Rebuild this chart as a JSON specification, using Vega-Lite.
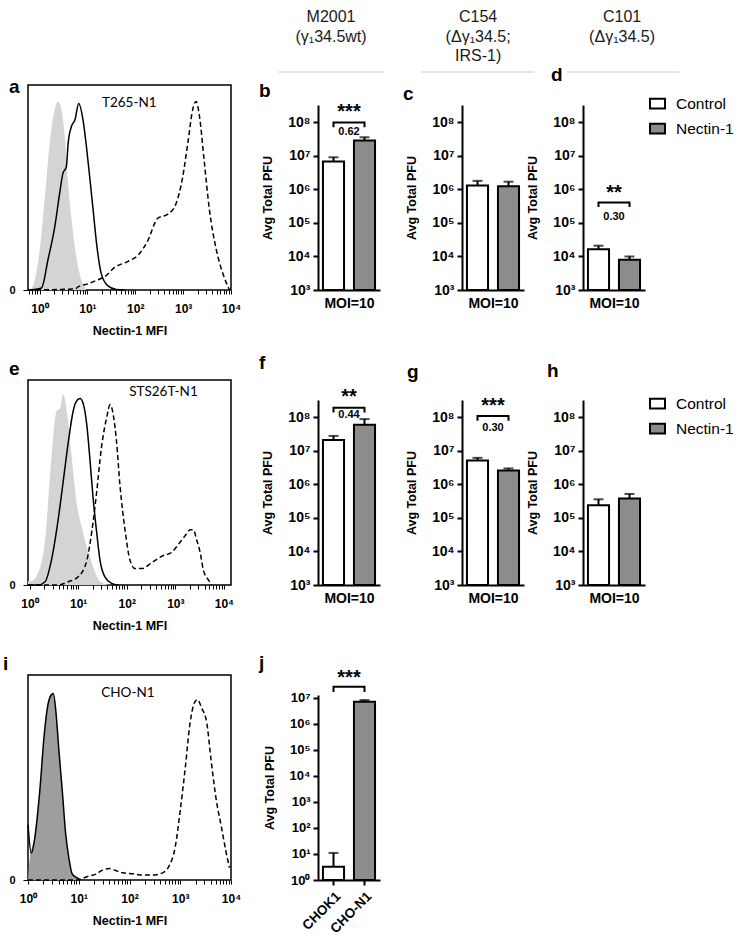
{
"$schema":"https://vega.github.io/schema/vega-lite/v6.json",
"background":"white",
"padding":{"left":2,"top":0,"right":0,"bottom":0},
"config":{
 "font":"Liberation Sans",
 "view":{"stroke":null},
 "axis":{"domainColor":"black","tickColor":"black","labelColor":"black","titleColor":"black","grid":false,"labelFontWeight":"bold","titleFontWeight":"bold","labelOverlap":false,"labelBound":false,"labelFlush":false},
 "title":{"anchor":"start","frame":"group","fontSize":19,"fontWeight":"bold","font":"Liberation Sans","offset":0,"color":"black"},
 "legend":{"labelFont":"Liberation Sans","labelFontSize":15.5,"labelColor":"black","symbolStrokeColor":"black","symbolStrokeWidth":2,"symbolType":"M-1,-0.65H1V0.65H-1Z","symbolSize":225,"labelOffset":10,"rowPadding":6,"padding":0}
},
"hconcat":[
 {"vconcat":[
   {"width":203,"height":5,"data":{"values":[]},"mark":"point"},
   {"vconcat":[
     {"title":{"text":"a","dx":-19,"dy":16},"width":203,"height":205,"view":{"stroke":"black","strokeWidth":1.5},
      "data":{"values":[
       {"s":"iso","m":0.631,"h":0},{"s":"iso","m":0.8,"h":0.05},{"s":"iso","m":1.016,"h":0.2},{"s":"iso","m":1.29,"h":0.45},{"s":"iso","m":1.64,"h":0.72},{"s":"iso","m":2.08,"h":0.88},{"s":"iso","m":2.45,"h":0.92},{"s":"iso","m":2.87,"h":0.88},{"s":"iso","m":3.37,"h":0.75},{"s":"iso","m":3.95,"h":0.52},{"s":"iso","m":4.8,"h":0.32},{"s":"iso","m":5.9,"h":0.16},{"s":"iso","m":7.5,"h":0.05},{"s":"iso","m":9.5,"h":0},
       {"s":"ctrl","m":0.575,"h":0},{"s":"ctrl","m":1.1,"h":0.01},{"s":"ctrl","m":1.51,"h":0.15},{"s":"ctrl","m":2.09,"h":0.31},{"s":"ctrl","m":2.63,"h":0.47},{"s":"ctrl","m":3.09,"h":0.57},{"s":"ctrl","m":3.63,"h":0.6},{"s":"ctrl","m":3.98,"h":0.72},{"s":"ctrl","m":4.68,"h":0.8},{"s":"ctrl","m":5.5,"h":0.83},{"s":"ctrl","m":6.6,"h":0.91},{"s":"ctrl","m":8.1,"h":0.83},{"s":"ctrl","m":9.55,"h":0.7},{"s":"ctrl","m":11.2,"h":0.55},{"s":"ctrl","m":13.2,"h":0.39},{"s":"ctrl","m":15.5,"h":0.23},{"s":"ctrl","m":19.5,"h":0.08},{"s":"ctrl","m":26.9,"h":0.02},{"s":"ctrl","m":39.8,"h":0.003},{"s":"ctrl","m":60,"h":0},
       {"s":"n1","m":0.575,"h":0},{"s":"n1","m":5.5,"h":0.005},{"s":"n1","m":6.46,"h":0.016},{"s":"n1","m":10.2,"h":0.03},{"s":"n1","m":16.6,"h":0.05},{"s":"n1","m":22.9,"h":0.065},{"s":"n1","m":37.2,"h":0.11},{"s":"n1","m":70.8,"h":0.14},{"s":"n1","m":115,"h":0.17},{"s":"n1","m":182,"h":0.24},{"s":"n1","m":295,"h":0.35},{"s":"n1","m":479,"h":0.37},{"s":"n1","m":708,"h":0.42},{"s":"n1","m":977,"h":0.55},{"s":"n1","m":1259,"h":0.72},{"s":"n1","m":1585,"h":0.88},{"s":"n1","m":1862,"h":0.92},{"s":"n1","m":2188,"h":0.85},{"s":"n1","m":2754,"h":0.63},{"s":"n1","m":3548,"h":0.39},{"s":"n1","m":4898,"h":0.2},{"s":"n1","m":6761,"h":0.08},{"s":"n1","m":9333,"h":0},
       {"s":"lab","m":75,"h":0.91,"t":"T265-N1"}
      ]},
      "encoding":{
       "x":{"field":"m","type":"quantitative","scale":{"type":"log","domain":[0.575,10000],"nice":false},
        "axis":{"values":[0.6,0.7,0.8,0.9,1,2,3,4,5,6,7,8,9,10,20,30,40,50,60,70,80,90,100,200,300,400,500,600,700,800,900,1000,2000,3000,4000,5000,6000,7000,8000,9000,10000],"labelExpr":"abs(log(datum.value)/LN10 - round(log(datum.value)/LN10)) < 0.01 ? '10' + ['⁰','¹','²','³','⁴'][round(log(datum.value)/LN10)] : ''","tickSize":4,"labelFontSize":12,"labelPadding":9,"title":"Nectin-1 MFI","titleFontSize":12.5,"titlePadding":10,"domain":false}},
       "y":{"field":"h","type":"quantitative","scale":{"domain":[0,1],"nice":false},"axis":{"values":[0],"title":null,"labelFontSize":11,"tickSize":5,"labelPadding":8,"domain":false}}
      },
      "layer":[
       {"transform":[{"filter":"datum.s==='iso'"}],"mark":{"type":"area","color":"#d4d4d4","interpolate":"monotone"}},
       {"transform":[{"filter":"datum.s==='ctrl'"}],"mark":{"type":"line","color":"black","strokeWidth":1.5,"interpolate":"monotone"}},
       {"transform":[{"filter":"datum.s==='n1'"}],"mark":{"type":"line","color":"black","strokeWidth":1.5,"strokeDash":[5,3],"interpolate":"monotone"}},
       {"transform":[{"filter":"datum.s==='lab'"}],"mark":{"type":"text","font":"Lato","fontSize":13.5,"color":"black","baseline":"middle"},"encoding":{"text":{"field":"t"}}}
      ]},
     {"title":{"text":"e","dx":-19,"dy":3},"width":203,"height":205,"view":{"stroke":"black","strokeWidth":1.5},
      "data":{"values":[
       {"s":"iso","m":0.93,"h":0.02},{"s":"iso","m":1.1,"h":0.02},{"s":"iso","m":1.51,"h":0.06},{"s":"iso","m":2.09,"h":0.22},{"s":"iso","m":2.82,"h":0.62},{"s":"iso","m":3.63,"h":0.85},{"s":"iso","m":4.27,"h":0.86},{"s":"iso","m":4.9,"h":0.93},{"s":"iso","m":5.75,"h":0.86},{"s":"iso","m":7.41,"h":0.62},{"s":"iso","m":9.33,"h":0.4},{"s":"iso","m":11.7,"h":0.29},{"s":"iso","m":14.8,"h":0.19},{"s":"iso","m":19.1,"h":0.11},{"s":"iso","m":25.7,"h":0.03},{"s":"iso","m":35.5,"h":0.005},{"s":"iso","m":49,"h":0},
       {"s":"ctrl","m":0.93,"h":0},{"s":"ctrl","m":1.51,"h":0},{"s":"ctrl","m":2.09,"h":0.016},{"s":"ctrl","m":2.82,"h":0.12},{"s":"ctrl","m":3.89,"h":0.32},{"s":"ctrl","m":4.9,"h":0.5},{"s":"ctrl","m":6.3,"h":0.7},{"s":"ctrl","m":7.94,"h":0.85},{"s":"ctrl","m":8.9,"h":0.89},{"s":"ctrl","m":11,"h":0.91},{"s":"ctrl","m":12.9,"h":0.88},{"s":"ctrl","m":15.1,"h":0.78},{"s":"ctrl","m":17.4,"h":0.62},{"s":"ctrl","m":20.4,"h":0.42},{"s":"ctrl","m":24,"h":0.26},{"s":"ctrl","m":28.2,"h":0.12},{"s":"ctrl","m":35.5,"h":0.04},{"s":"ctrl","m":49,"h":0.008},{"s":"ctrl","m":67.6,"h":0},
       {"s":"n1","m":0.93,"h":0},{"s":"n1","m":3.89,"h":0},{"s":"n1","m":6.3,"h":0.016},{"s":"n1","m":10,"h":0.04},{"s":"n1","m":15.1,"h":0.12},{"s":"n1","m":19.1,"h":0.26},{"s":"n1","m":24,"h":0.45},{"s":"n1","m":30.2,"h":0.67},{"s":"n1","m":38.9,"h":0.82},{"s":"n1","m":45.7,"h":0.88},{"s":"n1","m":53.7,"h":0.82},{"s":"n1","m":61.7,"h":0.7},{"s":"n1","m":72.4,"h":0.49},{"s":"n1","m":93.3,"h":0.26},{"s":"n1","m":117,"h":0.12},{"s":"n1","m":148,"h":0.08},{"s":"n1","m":204,"h":0.08},{"s":"n1","m":331,"h":0.11},{"s":"n1","m":525,"h":0.14},{"s":"n1","m":851,"h":0.16},{"s":"n1","m":1175,"h":0.2},{"s":"n1","m":1585,"h":0.24},{"s":"n1","m":2042,"h":0.27},{"s":"n1","m":2344,"h":0.27},{"s":"n1","m":2754,"h":0.22},{"s":"n1","m":3236,"h":0.16},{"s":"n1","m":3802,"h":0.07},{"s":"n1","m":4786,"h":0.025},{"s":"n1","m":5623,"h":0},
       {"s":"lab","m":570,"h":0.94,"t":"STS26T-N1"}
      ]},
      "encoding":{
       "x":{"field":"m","type":"quantitative","scale":{"type":"log","domain":[0.93,14000],"nice":false},
        "axis":{"values":[1,2,3,4,5,6,7,8,9,10,20,30,40,50,60,70,80,90,100,200,300,400,500,600,700,800,900,1000,2000,3000,4000,5000,6000,7000,8000,9000,10000],"labelExpr":"abs(log(datum.value)/LN10 - round(log(datum.value)/LN10)) < 0.01 ? '10' + ['⁰','¹','²','³','⁴'][round(log(datum.value)/LN10)] : ''","tickSize":4,"labelFontSize":12,"labelPadding":9,"title":"Nectin-1 MFI","titleFontSize":12.5,"titlePadding":10,"domain":false}},
       "y":{"field":"h","type":"quantitative","scale":{"domain":[0,1],"nice":false},"axis":{"values":[0],"title":null,"labelFontSize":11,"tickSize":5,"labelPadding":8,"domain":false}}
      },
      "layer":[
       {"transform":[{"filter":"datum.s==='iso'"}],"mark":{"type":"area","color":"#d4d4d4","interpolate":"monotone"}},
       {"transform":[{"filter":"datum.s==='ctrl'"}],"mark":{"type":"line","color":"black","strokeWidth":1.5,"interpolate":"monotone"}},
       {"transform":[{"filter":"datum.s==='n1'"}],"mark":{"type":"line","color":"black","strokeWidth":1.5,"strokeDash":[5,3],"interpolate":"monotone"}},
       {"transform":[{"filter":"datum.s==='lab'"}],"mark":{"type":"text","font":"Lato","fontSize":13.5,"color":"black","baseline":"middle"},"encoding":{"text":{"field":"t"}}}
      ]},
     {"title":{"text":"i","dx":-25,"dy":3},"width":203,"height":205,"view":{"stroke":"black","strokeWidth":1.5},
      "data":{"values":[
       {"s":"iso","m":1.0,"h":0},{"s":"iso","m":1.08,"h":0.1},{"s":"iso","m":1.35,"h":0.21},{"s":"iso","m":1.7,"h":0.43},{"s":"iso","m":2.09,"h":0.71},{"s":"iso","m":2.45,"h":0.85},{"s":"iso","m":2.82,"h":0.9},{"s":"iso","m":3.16,"h":0.91},{"s":"iso","m":3.55,"h":0.82},{"s":"iso","m":4.07,"h":0.63},{"s":"iso","m":4.79,"h":0.42},{"s":"iso","m":5.5,"h":0.23},{"s":"iso","m":6.46,"h":0.1},{"s":"iso","m":7.41,"h":0.03},{"s":"iso","m":9.33,"h":0.01},{"s":"iso","m":10.7,"h":0},
       {"s":"ctrl","m":1.0,"h":0.27},{"s":"ctrl","m":1.16,"h":0.13},{"s":"ctrl","m":1.35,"h":0.2},{"s":"ctrl","m":1.7,"h":0.43},{"s":"ctrl","m":2.09,"h":0.71},{"s":"ctrl","m":2.45,"h":0.85},{"s":"ctrl","m":2.82,"h":0.9},{"s":"ctrl","m":3.16,"h":0.91},{"s":"ctrl","m":3.55,"h":0.82},{"s":"ctrl","m":4.07,"h":0.63},{"s":"ctrl","m":4.79,"h":0.42},{"s":"ctrl","m":5.5,"h":0.23},{"s":"ctrl","m":6.46,"h":0.1},{"s":"ctrl","m":7.41,"h":0.03},{"s":"ctrl","m":9.33,"h":0.01},{"s":"ctrl","m":10.7,"h":0},
       {"s":"n1","m":1.0,"h":0},{"s":"n1","m":9.33,"h":0},{"s":"n1","m":14.5,"h":0.016},{"s":"n1","m":22.4,"h":0.03},{"s":"n1","m":30.2,"h":0.05},{"s":"n1","m":40.7,"h":0.056},{"s":"n1","m":55,"h":0.045},{"s":"n1","m":74,"h":0.035},{"s":"n1","m":115,"h":0.03},{"s":"n1","m":182,"h":0.024},{"s":"n1","m":282,"h":0.024},{"s":"n1","m":447,"h":0.035},{"s":"n1","m":589,"h":0.064},{"s":"n1","m":794,"h":0.16},{"s":"n1","m":1000,"h":0.34},{"s":"n1","m":1259,"h":0.55},{"s":"n1","m":1549,"h":0.76},{"s":"n1","m":1950,"h":0.87},{"s":"n1","m":2188,"h":0.88},{"s":"n1","m":2630,"h":0.84},{"s":"n1","m":3311,"h":0.77},{"s":"n1","m":4074,"h":0.58},{"s":"n1","m":5129,"h":0.39},{"s":"n1","m":6457,"h":0.26},{"s":"n1","m":7943,"h":0.14},{"s":"n1","m":9333,"h":0.06},
       {"s":"lab","m":93,"h":0.91,"t":"CHO-N1"}
      ]},
      "encoding":{
       "x":{"field":"m","type":"quantitative","scale":{"type":"log","domain":[1,10000],"nice":false},
        "axis":{"values":[1,2,3,4,5,6,7,8,9,10,20,30,40,50,60,70,80,90,100,200,300,400,500,600,700,800,900,1000,2000,3000,4000,5000,6000,7000,8000,9000,10000],"labelExpr":"abs(log(datum.value)/LN10 - round(log(datum.value)/LN10)) < 0.01 ? '10' + ['⁰','¹','²','³','⁴'][round(log(datum.value)/LN10)] : ''","tickSize":4,"labelFontSize":12,"labelPadding":9,"title":"Nectin-1 MFI","titleFontSize":12.5,"titlePadding":10,"domain":false}},
       "y":{"field":"h","type":"quantitative","scale":{"domain":[0,1],"nice":false},"axis":{"values":[0],"title":null,"labelFontSize":11,"tickSize":5,"labelPadding":8,"domain":false}}
      },
      "layer":[
       {"transform":[{"filter":"datum.s==='iso'"}],"mark":{"type":"area","color":"#9e9e9e","interpolate":"monotone"}},
       {"transform":[{"filter":"datum.s==='ctrl'"}],"mark":{"type":"line","color":"black","strokeWidth":1.5,"interpolate":"monotone"}},
       {"transform":[{"filter":"datum.s==='n1'"}],"mark":{"type":"line","color":"black","strokeWidth":1.5,"strokeDash":[5,3],"interpolate":"monotone"}},
       {"transform":[{"filter":"datum.s==='lab'"}],"mark":{"type":"text","font":"Lato","fontSize":13.5,"color":"black","baseline":"middle"},"encoding":{"text":{"field":"t"}}}
      ]}
   ],"spacing":90,"bounds":"flush"}
 ],"spacing":80,"bounds":"flush"},
 {"hconcat":[
  {"vconcat":[
    {"width":62,"height":75,
     "data":{"values":[{"t":"M2001\n(γ₁34.5wt)","x":0.21,"y":0.88,"x1":-0.645,"x2":1.065,"ly":0.04}]},
     "layer":[
      {"mark":{"type":"text","lineBreak":"\n","lineHeight":19.5,"fontSize":16,"baseline":"top","align":"center","color":"#1a1a1a"},
       "encoding":{"x":{"field":"x","type":"quantitative","scale":{"domain":[0,1]},"axis":null},"y":{"field":"y","type":"quantitative","scale":{"domain":[0,1]},"axis":null},"text":{"field":"t"}}},
      {"mark":{"type":"rule","color":"#cccccc","strokeWidth":1},
       "encoding":{"x":{"field":"x1","type":"quantitative"},"x2":{"field":"x2"},"y":{"field":"ly","type":"quantitative"}}}
     ]},
    {"vconcat":[
      {"title":{"text":"b","dx":-59,"dy":3},"width":62,"height":185,
       "data":{"values":[
        {"k":"bar","grp":"Control","v":6.8e6,"hi":9.1e6},{"k":"bar","grp":"Nectin-1","v":2.9e7,"hi":3.6e7},
        {"k":"br","grp":"Control","v":7.1e7,"o":1},{"k":"br","grp":"Control","v":1e8,"o":2},{"k":"br","grp":"Nectin-1","v":1e8,"o":3},{"k":"br","grp":"Nectin-1","v":7.1e7,"o":4},
        {"k":"star","grp":"Control","v":2.1e8,"t":"***"},{"k":"ratio","grp":"Control","v":5.3e7,"t":"0.62"}
       ]},
       "layer":[
        {"transform":[{"filter":"datum.k==='bar'"}],"mark":{"type":"bar","stroke":"black","strokeWidth":2},
         "encoding":{"x":{"field":"grp","type":"nominal","scale":{"type":"band","domain":["Control","Nectin-1"],"paddingInner":0.32,"paddingOuter":0.16},"axis":{"labels":false,"ticks":false,"title":"MOI=10","titleFontSize":14,"titlePadding":6,"domainWidth":2}},
          "y":{"field":"v","type":"quantitative","scale":{"type":"log","domain":[1000,3.3e8],"nice":false},"axis":{"values":[1000,10000,100000,1000000,10000000,100000000],"labelExpr":"'10' + ['⁰','¹','²','³','⁴','⁵','⁶','⁷','⁸'][round(log(datum.value)/LN10)]","title":"Avg Total PFU","titleFontSize":12.5,"labelFontSize":14,"tickSize":5,"labelPadding":3,"titlePadding":13,"domainWidth":2,"tickWidth":2}},
          "y2":{"datum":1000},
          "fill":{"field":"grp","type":"nominal","scale":{"domain":["Control","Nectin-1"],"range":["white","#8c8c8c"]},"legend":null}}},
        {"transform":[{"filter":"datum.k==='bar'"}],"mark":{"type":"rule","strokeWidth":2,"color":"black"},"encoding":{"x":{"field":"grp","type":"nominal"},"y":{"field":"v","type":"quantitative"},"y2":{"field":"hi"}}},
        {"transform":[{"filter":"datum.k==='bar'"}],"mark":{"type":"tick","thickness":2,"size":10,"color":"black"},"encoding":{"x":{"field":"grp","type":"nominal"},"y":{"field":"hi","type":"quantitative"}}},
        {"transform":[{"filter":"datum.k==='br'"}],"mark":{"type":"line","strokeWidth":2,"color":"black"},"encoding":{"x":{"field":"grp","type":"nominal"},"y":{"field":"v","type":"quantitative"},"order":{"field":"o"}}},
        {"transform":[{"filter":"datum.k==='star'"}],"mark":{"type":"text","fontSize":20,"fontWeight":"bold","baseline":"middle"},"encoding":{"x":{"field":"grp","type":"nominal","bandPosition":1.235},"y":{"field":"v","type":"quantitative"},"text":{"field":"t"}}},
        {"transform":[{"filter":"datum.k==='ratio'"}],"mark":{"type":"text","fontSize":11,"fontWeight":"bold","baseline":"middle"},"encoding":{"x":{"field":"grp","type":"nominal","bandPosition":1.235},"y":{"field":"v","type":"quantitative"},"text":{"field":"t"}}}
       ]},
      {"title":{"text":"f","dx":-59,"dy":-10},"width":62,"height":185,
       "data":{"values":[
        {"k":"bar","grp":"Control","v":2.1e7,"hi":2.8e7},{"k":"bar","grp":"Nectin-1","v":6e7,"hi":8.9e7},
        {"k":"br","grp":"Control","v":1.4e8,"o":1},{"k":"br","grp":"Control","v":1.95e8,"o":2},{"k":"br","grp":"Nectin-1","v":1.95e8,"o":3},{"k":"br","grp":"Nectin-1","v":1.4e8,"o":4},
        {"k":"star","grp":"Control","v":4e8,"t":"**"},{"k":"ratio","grp":"Control","v":1.2e8,"t":"0.44"}
       ]},
       "layer":[
        {"transform":[{"filter":"datum.k==='bar'"}],"mark":{"type":"bar","stroke":"black","strokeWidth":2},
         "encoding":{"x":{"field":"grp","type":"nominal","scale":{"type":"band","domain":["Control","Nectin-1"],"paddingInner":0.32,"paddingOuter":0.16},"axis":{"labels":false,"ticks":false,"title":"MOI=10","titleFontSize":14,"titlePadding":6,"domainWidth":2}},
          "y":{"field":"v","type":"quantitative","scale":{"type":"log","domain":[1000,3.3e8],"nice":false},"axis":{"values":[1000,10000,100000,1000000,10000000,100000000],"labelExpr":"'10' + ['⁰','¹','²','³','⁴','⁵','⁶','⁷','⁸'][round(log(datum.value)/LN10)]","title":"Avg Total PFU","titleFontSize":12.5,"labelFontSize":14,"tickSize":5,"labelPadding":3,"titlePadding":13,"domainWidth":2,"tickWidth":2}},
          "y2":{"datum":1000},
          "fill":{"field":"grp","type":"nominal","scale":{"domain":["Control","Nectin-1"],"range":["white","#8c8c8c"]},"legend":null}}},
        {"transform":[{"filter":"datum.k==='bar'"}],"mark":{"type":"rule","strokeWidth":2,"color":"black"},"encoding":{"x":{"field":"grp","type":"nominal"},"y":{"field":"v","type":"quantitative"},"y2":{"field":"hi"}}},
        {"transform":[{"filter":"datum.k==='bar'"}],"mark":{"type":"tick","thickness":2,"size":10,"color":"black"},"encoding":{"x":{"field":"grp","type":"nominal"},"y":{"field":"hi","type":"quantitative"}}},
        {"transform":[{"filter":"datum.k==='br'"}],"mark":{"type":"line","strokeWidth":2,"color":"black"},"encoding":{"x":{"field":"grp","type":"nominal"},"y":{"field":"v","type":"quantitative"},"order":{"field":"o"}}},
        {"transform":[{"filter":"datum.k==='star'"}],"mark":{"type":"text","fontSize":20,"fontWeight":"bold","baseline":"middle"},"encoding":{"x":{"field":"grp","type":"nominal","bandPosition":1.235},"y":{"field":"v","type":"quantitative"},"text":{"field":"t"}}},
        {"transform":[{"filter":"datum.k==='ratio'"}],"mark":{"type":"text","fontSize":11,"fontWeight":"bold","baseline":"middle"},"encoding":{"x":{"field":"grp","type":"nominal","bandPosition":1.235},"y":{"field":"v","type":"quantitative"},"text":{"field":"t"}}}
       ]},
      {"title":{"text":"j","dx":-59,"dy":9},"width":62,"height":185,
       "data":{"values":[
        {"k":"bar","grp":"CHOK1","v":3.2,"hi":11},{"k":"bar","grp":"CHO-N1","v":7.2e6,"hi":8.3e6},
        {"k":"br","grp":"CHOK1","v":1.7e7,"o":1},{"k":"br","grp":"CHOK1","v":2.7e7,"o":2},{"k":"br","grp":"CHO-N1","v":2.7e7,"o":3},{"k":"br","grp":"CHO-N1","v":1.7e7,"o":4},
        {"k":"star","grp":"CHOK1","v":5.7e7,"t":"***"}
       ]},
       "layer":[
        {"transform":[{"filter":"datum.k==='bar'"}],"mark":{"type":"bar","stroke":"black","strokeWidth":2},
         "encoding":{"x":{"field":"grp","type":"nominal","scale":{"type":"band","domain":["CHOK1","CHO-N1"],"paddingInner":0.32,"paddingOuter":0.16},"axis":{"labelAngle":-45,"labelFontSize":13.5,"tickSize":5,"tickWidth":2,"labelPadding":4,"title":null,"domainWidth":2}},
          "y":{"field":"v","type":"quantitative","scale":{"type":"log","domain":[1,1.3e7],"nice":false},"axis":{"values":[1,10,100,1000,10000,100000,1000000,10000000],"labelExpr":"'10' + ['⁰','¹','²','³','⁴','⁵','⁶','⁷','⁸'][round(log(datum.value)/LN10)]","title":"Avg Total PFU","titleFontSize":12.5,"labelFontSize":13,"tickSize":5,"labelPadding":3,"titlePadding":13,"domainWidth":2,"tickWidth":2}},
          "y2":{"datum":1},
          "fill":{"field":"grp","type":"nominal","scale":{"domain":["CHOK1","CHO-N1"],"range":["white","#8c8c8c"]},"legend":null}}},
        {"transform":[{"filter":"datum.k==='bar'"}],"mark":{"type":"rule","strokeWidth":2,"color":"black"},"encoding":{"x":{"field":"grp","type":"nominal"},"y":{"field":"v","type":"quantitative"},"y2":{"field":"hi"}}},
        {"transform":[{"filter":"datum.k==='bar'"}],"mark":{"type":"tick","thickness":2,"size":10,"color":"black"},"encoding":{"x":{"field":"grp","type":"nominal"},"y":{"field":"hi","type":"quantitative"}}},
        {"transform":[{"filter":"datum.k==='br'"}],"mark":{"type":"line","strokeWidth":2,"color":"black"},"encoding":{"x":{"field":"grp","type":"nominal"},"y":{"field":"v","type":"quantitative"},"order":{"field":"o"}}},
        {"transform":[{"filter":"datum.k==='star'"}],"mark":{"type":"text","fontSize":20,"fontWeight":"bold","baseline":"middle"},"encoding":{"x":{"field":"grp","type":"nominal","bandPosition":1.235},"y":{"field":"v","type":"quantitative"},"text":{"field":"t"}}}
       ]}
    ],"spacing":110,"bounds":"flush","resolve":{"scale":{"fill":"independent"},"legend":{"fill":"independent"}}}
  ],"spacing":30,"bounds":"flush","resolve":{"scale":{"fill":"independent"},"legend":{"fill":"independent"}}},
  {"hconcat":[
   {"vconcat":[
    {"width":62,"height":75,
     "data":{"values":[{"t":"C154\n(Δγ₁34.5;\nIRS-1)","x":0.26,"y":0.88,"x1":-0.66,"x2":1.16,"ly":0.04}]},
     "layer":[
      {"mark":{"type":"text","lineBreak":"\n","lineHeight":19.5,"fontSize":16,"baseline":"top","align":"center","color":"#1a1a1a"},
       "encoding":{"x":{"field":"x","type":"quantitative","scale":{"domain":[0,1]},"axis":null},"y":{"field":"y","type":"quantitative","scale":{"domain":[0,1]},"axis":null},"text":{"field":"t"}}},
      {"mark":{"type":"rule","color":"#cccccc","strokeWidth":1},
       "encoding":{"x":{"field":"x1","type":"quantitative"},"x2":{"field":"x2"},"y":{"field":"ly","type":"quantitative"}}}
     ]},
    {"vconcat":[
      {"title":{"text":"c","dx":-59,"dy":3},"width":62,"height":185,
       "data":{"values":[
        {"k":"bar","grp":"Control","v":1.3e6,"hi":1.8e6},{"k":"bar","grp":"Nectin-1","v":1.25e6,"hi":1.7e6}
       ]},
       "layer":[
        {"transform":[{"filter":"datum.k==='bar'"}],"mark":{"type":"bar","stroke":"black","strokeWidth":2},
         "encoding":{"x":{"field":"grp","type":"nominal","scale":{"type":"band","domain":["Control","Nectin-1"],"paddingInner":0.32,"paddingOuter":0.16},"axis":{"labels":false,"ticks":false,"title":"MOI=10","titleFontSize":14,"titlePadding":6,"domainWidth":2}},
          "y":{"field":"v","type":"quantitative","scale":{"type":"log","domain":[1000,3.3e8],"nice":false},"axis":{"values":[1000,10000,100000,1000000,10000000,100000000],"labelExpr":"'10' + ['⁰','¹','²','³','⁴','⁵','⁶','⁷','⁸'][round(log(datum.value)/LN10)]","title":"Avg Total PFU","titleFontSize":12.5,"labelFontSize":14,"tickSize":5,"labelPadding":3,"titlePadding":13,"domainWidth":2,"tickWidth":2}},
          "y2":{"datum":1000},
          "fill":{"field":"grp","type":"nominal","scale":{"domain":["Control","Nectin-1"],"range":["white","#8c8c8c"]},"legend":null}}},
        {"transform":[{"filter":"datum.k==='bar'"}],"mark":{"type":"rule","strokeWidth":2,"color":"black"},"encoding":{"x":{"field":"grp","type":"nominal"},"y":{"field":"v","type":"quantitative"},"y2":{"field":"hi"}}},
        {"transform":[{"filter":"datum.k==='bar'"}],"mark":{"type":"tick","thickness":2,"size":10,"color":"black"},"encoding":{"x":{"field":"grp","type":"nominal"},"y":{"field":"hi","type":"quantitative"}}}
       ]},
      {"title":{"text":"g","dx":-55,"dy":-10},"width":62,"height":185,
       "data":{"values":[
        {"k":"bar","grp":"Control","v":5.2e6,"hi":6.2e6},{"k":"bar","grp":"Nectin-1","v":2.6e6,"hi":3.0e6},
        {"k":"br","grp":"Control","v":7.9e7,"o":1},{"k":"br","grp":"Control","v":1.1e8,"o":2},{"k":"br","grp":"Nectin-1","v":1.1e8,"o":3},{"k":"br","grp":"Nectin-1","v":7.9e7,"o":4},
        {"k":"star","grp":"Control","v":2.2e8,"t":"***"},{"k":"ratio","grp":"Control","v":4.9e7,"t":"0.30"}
       ]},
       "layer":[
        {"transform":[{"filter":"datum.k==='bar'"}],"mark":{"type":"bar","stroke":"black","strokeWidth":2},
         "encoding":{"x":{"field":"grp","type":"nominal","scale":{"type":"band","domain":["Control","Nectin-1"],"paddingInner":0.32,"paddingOuter":0.16},"axis":{"labels":false,"ticks":false,"title":"MOI=10","titleFontSize":14,"titlePadding":6,"domainWidth":2}},
          "y":{"field":"v","type":"quantitative","scale":{"type":"log","domain":[1000,3.3e8],"nice":false},"axis":{"values":[1000,10000,100000,1000000,10000000,100000000],"labelExpr":"'10' + ['⁰','¹','²','³','⁴','⁵','⁶','⁷','⁸'][round(log(datum.value)/LN10)]","title":"Avg Total PFU","titleFontSize":12.5,"labelFontSize":14,"tickSize":5,"labelPadding":3,"titlePadding":13,"domainWidth":2,"tickWidth":2}},
          "y2":{"datum":1000},
          "fill":{"field":"grp","type":"nominal","scale":{"domain":["Control","Nectin-1"],"range":["white","#8c8c8c"]},"legend":null}}},
        {"transform":[{"filter":"datum.k==='bar'"}],"mark":{"type":"rule","strokeWidth":2,"color":"black"},"encoding":{"x":{"field":"grp","type":"nominal"},"y":{"field":"v","type":"quantitative"},"y2":{"field":"hi"}}},
        {"transform":[{"filter":"datum.k==='bar'"}],"mark":{"type":"tick","thickness":2,"size":10,"color":"black"},"encoding":{"x":{"field":"grp","type":"nominal"},"y":{"field":"hi","type":"quantitative"}}},
        {"transform":[{"filter":"datum.k==='br'"}],"mark":{"type":"line","strokeWidth":2,"color":"black"},"encoding":{"x":{"field":"grp","type":"nominal"},"y":{"field":"v","type":"quantitative"},"order":{"field":"o"}}},
        {"transform":[{"filter":"datum.k==='star'"}],"mark":{"type":"text","fontSize":20,"fontWeight":"bold","baseline":"middle"},"encoding":{"x":{"field":"grp","type":"nominal","bandPosition":1.235},"y":{"field":"v","type":"quantitative"},"text":{"field":"t"}}},
        {"transform":[{"filter":"datum.k==='ratio'"}],"mark":{"type":"text","fontSize":11,"fontWeight":"bold","baseline":"middle"},"encoding":{"x":{"field":"grp","type":"nominal","bandPosition":1.235},"y":{"field":"v","type":"quantitative"},"text":{"field":"t"}}}
       ]}
    ],"spacing":110,"bounds":"flush","resolve":{"scale":{"fill":"independent"},"legend":{"fill":"independent"}}}
   ],"spacing":30,"bounds":"flush","resolve":{"scale":{"fill":"independent"},"legend":{"fill":"independent"}}},
   {"vconcat":[
    {"width":62,"height":75,
     "data":{"values":[{"t":"C101\n(Δγ₁34.5)","x":0.63,"y":0.88,"x1":-0.26,"x2":1.55,"ly":0.04}]},
     "layer":[
      {"mark":{"type":"text","lineBreak":"\n","lineHeight":19.5,"fontSize":16,"baseline":"top","align":"center","color":"#1a1a1a"},
       "encoding":{"x":{"field":"x","type":"quantitative","scale":{"domain":[0,1]},"axis":null},"y":{"field":"y","type":"quantitative","scale":{"domain":[0,1]},"axis":null},"text":{"field":"t"}}},
      {"mark":{"type":"rule","color":"#cccccc","strokeWidth":1},
       "encoding":{"x":{"field":"x1","type":"quantitative"},"x2":{"field":"x2"},"y":{"field":"ly","type":"quantitative"}}}
     ]},
    {"vconcat":[
      {"title":{"text":"d","dx":-32,"dy":-6},"width":62,"height":185,
       "data":{"values":[
        {"k":"bar","grp":"Control","v":1.65e4,"hi":2.1e4},{"k":"bar","grp":"Nectin-1","v":8e3,"hi":1e4},
        {"k":"br","grp":"Control","v":3e5,"o":1},{"k":"br","grp":"Control","v":4.1e5,"o":2},{"k":"br","grp":"Nectin-1","v":4.1e5,"o":3},{"k":"br","grp":"Nectin-1","v":3e5,"o":4},
        {"k":"star","grp":"Control","v":7.9e5,"t":"**"},{"k":"ratio","grp":"Control","v":1.55e5,"t":"0.30"}
       ]},
       "layer":[
        {"transform":[{"filter":"datum.k==='bar'"}],"mark":{"type":"bar","stroke":"black","strokeWidth":2},
         "encoding":{"x":{"field":"grp","type":"nominal","scale":{"type":"band","domain":["Control","Nectin-1"],"paddingInner":0.32,"paddingOuter":0.16},"axis":{"labels":false,"ticks":false,"title":"MOI=10","titleFontSize":14,"titlePadding":6,"domainWidth":2}},
          "y":{"field":"v","type":"quantitative","scale":{"type":"log","domain":[1000,3.3e8],"nice":false},"axis":{"values":[1000,10000,100000,1000000,10000000,100000000],"labelExpr":"'10' + ['⁰','¹','²','³','⁴','⁵','⁶','⁷','⁸'][round(log(datum.value)/LN10)]","title":"Avg Total PFU","titleFontSize":12.5,"labelFontSize":14,"tickSize":5,"labelPadding":3,"titlePadding":13,"domainWidth":2,"tickWidth":2}},
          "y2":{"datum":1000},
          "fill":{"field":"grp","type":"nominal","scale":{"domain":["Control","Nectin-1"],"range":["white","#8c8c8c"]},"legend":{"orient":"none","legendX":66,"legendY":-10,"title":null}}}},
        {"transform":[{"filter":"datum.k==='bar'"}],"mark":{"type":"rule","strokeWidth":2,"color":"black"},"encoding":{"x":{"field":"grp","type":"nominal"},"y":{"field":"v","type":"quantitative"},"y2":{"field":"hi"}}},
        {"transform":[{"filter":"datum.k==='bar'"}],"mark":{"type":"tick","thickness":2,"size":10,"color":"black"},"encoding":{"x":{"field":"grp","type":"nominal"},"y":{"field":"hi","type":"quantitative"}}},
        {"transform":[{"filter":"datum.k==='br'"}],"mark":{"type":"line","strokeWidth":2,"color":"black"},"encoding":{"x":{"field":"grp","type":"nominal"},"y":{"field":"v","type":"quantitative"},"order":{"field":"o"}}},
        {"transform":[{"filter":"datum.k==='star'"}],"mark":{"type":"text","fontSize":20,"fontWeight":"bold","baseline":"middle"},"encoding":{"x":{"field":"grp","type":"nominal","bandPosition":1.235},"y":{"field":"v","type":"quantitative"},"text":{"field":"t"}}},
        {"transform":[{"filter":"datum.k==='ratio'"}],"mark":{"type":"text","fontSize":11,"fontWeight":"bold","baseline":"middle"},"encoding":{"x":{"field":"grp","type":"nominal","bandPosition":1.235},"y":{"field":"v","type":"quantitative"},"text":{"field":"t"}}}
       ]},
      {"title":{"text":"h","dx":-36,"dy":-10},"width":62,"height":185,
       "data":{"values":[
        {"k":"bar","grp":"Control","v":2.4e5,"hi":3.6e5},{"k":"bar","grp":"Nectin-1","v":3.8e5,"hi":5.2e5}
       ]},
       "layer":[
        {"transform":[{"filter":"datum.k==='bar'"}],"mark":{"type":"bar","stroke":"black","strokeWidth":2},
         "encoding":{"x":{"field":"grp","type":"nominal","scale":{"type":"band","domain":["Control","Nectin-1"],"paddingInner":0.32,"paddingOuter":0.16},"axis":{"labels":false,"ticks":false,"title":"MOI=10","titleFontSize":14,"titlePadding":6,"domainWidth":2}},
          "y":{"field":"v","type":"quantitative","scale":{"type":"log","domain":[1000,3.3e8],"nice":false},"axis":{"values":[1000,10000,100000,1000000,10000000,100000000],"labelExpr":"'10' + ['⁰','¹','²','³','⁴','⁵','⁶','⁷','⁸'][round(log(datum.value)/LN10)]","title":"Avg Total PFU","titleFontSize":12.5,"labelFontSize":14,"tickSize":5,"labelPadding":3,"titlePadding":13,"domainWidth":2,"tickWidth":2}},
          "y2":{"datum":1000},
          "fill":{"field":"grp","type":"nominal","scale":{"domain":["Control","Nectin-1"],"range":["white","#8c8c8c"]},"legend":{"orient":"none","legendX":66,"legendY":-5,"title":null}}}},
        {"transform":[{"filter":"datum.k==='bar'"}],"mark":{"type":"rule","strokeWidth":2,"color":"black"},"encoding":{"x":{"field":"grp","type":"nominal"},"y":{"field":"v","type":"quantitative"},"y2":{"field":"hi"}}},
        {"transform":[{"filter":"datum.k==='bar'"}],"mark":{"type":"tick","thickness":2,"size":10,"color":"black"},"encoding":{"x":{"field":"grp","type":"nominal"},"y":{"field":"hi","type":"quantitative"}}}
       ]}
    ],"spacing":110,"bounds":"flush","resolve":{"scale":{"fill":"independent"},"legend":{"fill":"independent"}}}
   ],"spacing":30,"bounds":"flush","resolve":{"scale":{"fill":"independent"},"legend":{"fill":"independent"}}}
  ],"spacing":121,"bounds":"flush","resolve":{"scale":{"fill":"independent"},"legend":{"fill":"independent"}}}
 ],"spacing":144,"bounds":"flush","resolve":{"scale":{"fill":"independent"},"legend":{"fill":"independent"}}}
],
"spacing":290,
"bounds":"flush",
"resolve":{"scale":{"fill":"independent"},"legend":{"fill":"independent"}}
}
